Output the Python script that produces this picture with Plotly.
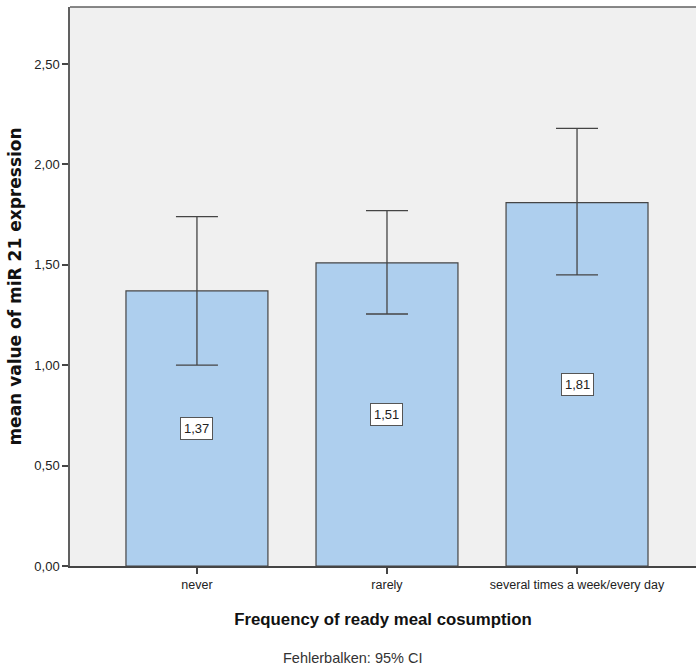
import plotly.graph_objects as go

categories = ["never", "rarely", "several times a week/every day"]
means = [1.37, 1.51, 1.81]
ci_upper = [1.74, 1.77, 2.18]
ci_lower = [1.00, 1.255, 1.45]
y_ticks = [0, 0.5, 1.0, 1.5, 2.0, 2.5]

x_idx = list(range(len(categories)))
err_plus = [u - m for u, m in zip(ci_upper, means)]
err_minus = [m - l for m, l in zip(means, ci_lower)]

font_family = "Liberation Sans, Arial, sans-serif"

fig = go.Figure()
fig.add_trace(go.Bar(
    x=x_idx, y=means, width=0.747,
    marker=dict(color="#aecfee", line=dict(color="#454545", width=1.2)),
    error_y=dict(type="data", symmetric=False, array=err_plus, arrayminus=err_minus,
                 color="#454545", thickness=1.3, width=21),
    hoverinfo="skip",
))

for xi, m in zip(x_idx, means):
    fig.add_annotation(
        x=xi, y=m / 2, text=f"{m:.2f}".replace(".", ","), showarrow=False,
        bgcolor="white", bordercolor="#555555", borderwidth=1, borderpad=3,
        font=dict(family=font_family, size=13, color="#222222"),
    )

fig.add_annotation(
    x=0.452, xref="paper", y=-0.1646, yref="paper", yanchor="middle", xanchor="center",
    text="Fehlerbalken: 95% CI", showarrow=False,
    font=dict(family=font_family, size=14.5, color="#333333"),
)

fig.add_shape(type="line", xref="paper", yref="paper", x0=0, x1=1, y0=1, y1=1,
              line=dict(color="#606060", width=1.5))

fig.update_layout(
    width=696, height=671,
    margin=dict(l=70, r=0, t=7, b=105),
    paper_bgcolor="white", plot_bgcolor="#f0f0f0",
    separators=",.",
    showlegend=False,
    font=dict(family=font_family, color="#222222"),
    xaxis=dict(
        range=[-0.668, 2.626],
        tickmode="array", tickvals=x_idx, ticktext=categories,
        ticks="outside", ticklen=6, tickcolor="#454545", tickwidth=1.5,
        showline=True, linecolor="#454545", linewidth=1.5,
        showgrid=False, zeroline=False,
        tickfont=dict(family=font_family, size=12.5, color="#222222"),
        title=dict(text="<b>Frequency of ready meal cosumption</b>",
                   font=dict(family=font_family, size=16.8, color="#111111"), standoff=22),
    ),
    yaxis=dict(
        range=[0, 2.784],
        tickmode="array", tickvals=y_ticks, tickformat=".2f",
        ticks="outside", ticklen=6, tickcolor="#454545", tickwidth=1.5,
        showline=True, linecolor="#606060", linewidth=1.5,
        showgrid=False, zeroline=False,
        tickfont=dict(family=font_family, size=13, color="#222222"),
        title=dict(text="<b>mean value of miR 21 expression</b>",
                   font=dict(family="DejaVu Sans, sans-serif", size=17, color="#111111"), standoff=8),
    ),
)

fig.write_html("out.html")
